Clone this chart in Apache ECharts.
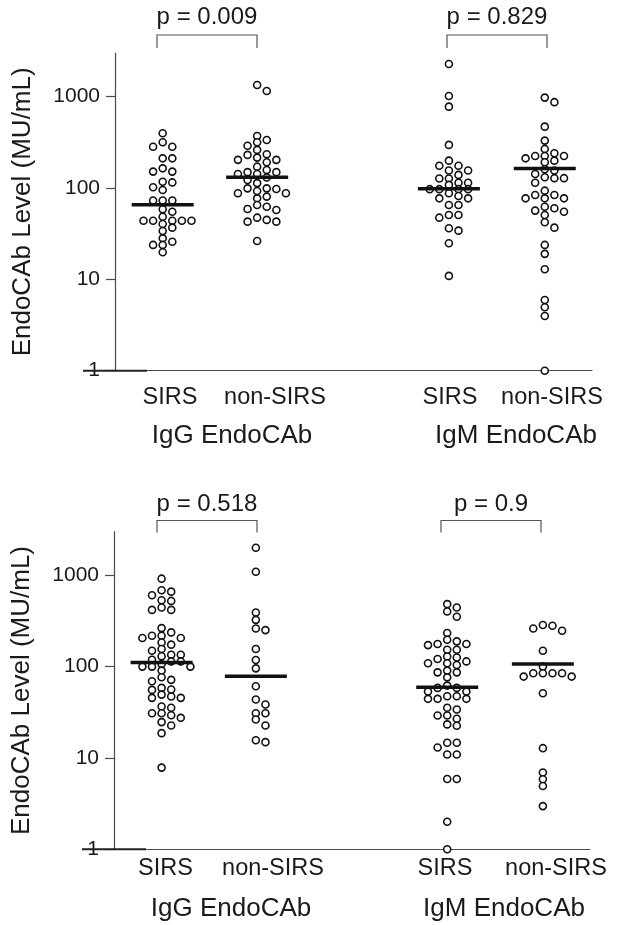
<!DOCTYPE html>
<html><head><meta charset="utf-8">
<script src="https://cdn.jsdelivr.net/npm/echarts@6/dist/echarts.min.js"></script>
<style>html,body{margin:0;padding:0;background:#fff}#chart{width:617px;height:925px}</style>
</head><body><div id="chart"></div>
<script>
// ---------------- data ----------------
const yTickValues = [1, 10, 100, 1000];
const yTickLabels = ['1', '10', '100', '1000'];
const yMin = 1, yMax = 3000;
const groupNames = ['SIRS', 'non-SIRS', 'SIRS', 'non-SIRS'];
const antibodyNames = ['IgG EndoCAb', 'IgM EndoCAb'];
const yAxisTitle = 'EndoCAb Level (MU/mL)';
const pLabelsTop = ['p = 0.009', 'p = 0.829'];
const pLabelsBottom = ['p = 0.518', 'p = 0.9'];

const topIgGSirs = [397, 316, 283, 283, 211, 211, 164, 151, 151, 117, 115, 102, 95, 73, 73, 73, 58.5, 55, 48.5, 43.8, 43.8, 43.8, 43.8, 43.8, 40.3, 36.8, 33.8, 28.1, 25.8, 23.8, 23.8, 19.8];
const topIgGNonSirs = [1340, 1153, 371, 335, 316, 290, 261, 234, 230, 215, 203, 203, 191, 171, 157, 149, 149, 142, 142, 130, 122, 113, 99, 99, 97.5, 92.7, 87.5, 87.5, 80.4, 77, 65, 62.4, 58.9, 57.4, 47.3, 44.7, 42.8, 42.8, 26.3];
const topIgMSirs = [2277, 1016, 776, 296, 199, 175, 175, 155, 155, 139, 127, 127, 114, 114, 108, 97, 97, 97, 97, 87.5, 81.7, 77, 77, 65, 65, 50.6, 50.6, 47.3, 36.2, 34.1, 24.8, 10.9];
const topIgMNonSirs = [975, 869, 469, 330, 267, 240, 224, 224, 224, 211, 199, 191, 160, 155, 142, 131, 128, 128, 114, 93.4, 83.8, 83.8, 77, 77, 77, 62.4, 60, 56.5, 55, 50.6, 42.1, 36.8, 23.8, 19, 12.9, 5.94, 4.94, 3.97, 1.0];
const topMedians = [65.6, 131, 98, 163];

const bottomIgGSirs = [918, 686, 662, 605, 533, 524, 444, 418, 418, 264, 237, 218, 218, 206, 206, 184, 174, 156, 149, 135, 135, 130, 119, 114, 114, 107, 100, 100, 100, 90.5, 76.4, 71.6, 69.2, 58.5, 56.1, 55.6, 49.4, 47, 45.5, 45.5, 36.6, 35.4, 30.9, 30.9, 29.4, 27.5, 24.7, 22.7, 18.7, 7.84];
const bottomIgGNonSirs = [2000, 1094, 391, 325, 261, 251, 156, 118, 95.7, 60.9, 43.6, 38.5, 30.9, 30.9, 26.4, 22.7, 15.6, 14.9];
const bottomIgMSirs = [483, 444, 401, 351, 233, 197, 189, 177, 177, 172, 153, 153, 129, 126, 121, 114, 109, 109, 104, 90.4, 86.5, 86.5, 76.3, 62, 58.5, 58.5, 53.3, 53.3, 47.4, 47.4, 44.4, 44.4, 44.4, 35.4, 33.9, 29.2, 29.2, 26.9, 23.3, 22.5, 14.7, 14.7, 13, 10.9, 10.9, 5.89, 5.89, 2, 1];
const bottomIgMNonSirs = [285, 280, 261, 247, 149, 100, 84.5, 84.5, 84.5, 84.5, 77.8, 77.8, 51.1, 12.8, 6.92, 5.85, 4.94, 2.97];
const bottomMedians = [111, 78.3, 59.4, 107];

// ---------------- layout ----------------
const groupCenters = [10, 29.8, 70, 90.1]; // x-axis units (0..100)
const FONT = '"Liberation Sans", Arial, Helvetica, sans-serif';
const TXT = '#1a1a1a';
const AXC = '#4a4a4a';
const grids = [
  {left: 115, top: 53, width: 477, height: 317.7},
  {left: 114, top: 531.7, width: 476, height: 317.6}
];
const panelLayout = [
  {catX: [170, 275, 450, 552], catY: 398, titleX: [232, 516], titleY: 436, pY: 17, bracketY: 35, legY: 48, bracketX: [[157, 257], [447, 547]]},
  {catX: [165.5, 273, 445, 556], catY: 869, titleX: [231, 504], titleY: 909, pY: 504, bracketY: 520.5, legY: 532.5, bracketX: [[157, 257], [441, 541]]}
];
const panels = [
  {groups: [topIgGSirs, topIgGNonSirs, topIgMSirs, topIgMNonSirs], medians: topMedians, p: pLabelsTop},
  {groups: [bottomIgGSirs, bottomIgGNonSirs, bottomIgMSirs, bottomIgMNonSirs], medians: bottomMedians, p: pLabelsBottom}
];

const chart = echarts.init(document.getElementById('chart'));

function yAxisFor(i) {
  return {
    type: 'log', logBase: 10, min: yMin, max: yMax, gridIndex: i,
    axisLine: {show: true, lineStyle: {color: AXC, width: 1.2}},
    axisTick: {show: true, length: 9, customValues: yTickValues, lineStyle: {color: AXC, width: 1.2}},
    axisLabel: {customValues: yTickValues, fontSize: 21, color: TXT, fontFamily: FONT, margin: 15,
      formatter: v => { const k = yTickValues.indexOf(Math.round(v)); return k >= 0 ? yTickLabels[k] : ''; }},
    splitLine: {show: false},
    name: yAxisTitle, nameLocation: 'middle', nameGap: 79,
    nameTextStyle: {fontSize: 26, color: TXT, fontFamily: FONT}
  };
}
function xAxisFor(i) {
  return {type: 'value', min: 0, max: 100, gridIndex: i,
    axisLine: {show: true, onZero: false, lineStyle: {color: AXC, width: 1}},
    axisTick: {show: false}, axisLabel: {show: false}, splitLine: {show: false}};
}

chart.setOption({
  animation: false,
  backgroundColor: '#fff',
  grid: grids,
  xAxis: [xAxisFor(0), xAxisFor(1)],
  yAxis: [yAxisFor(0), yAxisFor(1)]
});

// deterministic beeswarm layout (pixel space), converted back to axis units
function swarm(values, gi, centerVal) {
  const cx = chart.convertToPixel({xAxisIndex: gi}, centerVal);
  const pts = values.map(v => ({v: v, py: chart.convertToPixel({yAxisIndex: gi}, v)}));
  const order = pts.slice().sort((a, b) => a.py - b.py);
  const placed = [];
  const step = 9.6, minD = 6.2;
  order.forEach(p => {
    let done = false;
    for (let k = 0; k < 30 && !done; k++) {
      const slots = k === 0 ? [0] : [k, -k];
      for (const s of slots) {
        const px = cx + s * step;
        if (placed.every(q => Math.hypot(q.px - px, q.py - p.py) >= minD)) { p.px = px; done = true; break; }
      }
    }
    placed.push(p);
  });
  return pts.map(p => [chart.convertFromPixel({xAxisIndex: gi}, p.px), p.v]);
}

const series = [];
const graphics = [];
panels.forEach((panel, gi) => {
  panel.groups.forEach((vals, k) => {
    series.push({
      type: 'scatter', xAxisIndex: gi, yAxisIndex: gi, z: 2,
      data: swarm(vals, gi, groupCenters[k]),
      symbol: 'circle', symbolSize: 7,
      itemStyle: {color: '#fff', borderColor: '#111', borderWidth: 1.6, opacity: 1}
    });
  });
  series.push({
    type: 'custom', xAxisIndex: gi, yAxisIndex: gi, z: 3,
    data: panel.medians.map((m, k) => [groupCenters[k], m]),
    renderItem: (params, api) => {
      const p = api.coord([api.value(0), api.value(1)]);
      return {type: 'line', shape: {x1: p[0] - 31, y1: p[1], x2: p[0] + 31, y2: p[1]},
        style: {stroke: '#111', lineWidth: 3.5}};
    }
  });

  const L = panelLayout[gi];
  const g = grids[gi];
  const yBase = chart.convertToPixel({yAxisIndex: gi}, yMin);
  // extended baseline stroke through the "1" tick
  graphics.push({type: 'line', shape: {x1: g.left - 32, y1: yBase, x2: g.left + 32, y2: yBase},
    style: {stroke: '#222', lineWidth: 2}, z: 10});
  // brackets + p values
  L.bracketX.forEach((bx, j) => {
    graphics.push({type: 'polyline', shape: {points: [[bx[0], L.legY], [bx[0], L.bracketY], [bx[1], L.bracketY], [bx[1], L.legY]]},
      style: {stroke: '#555', lineWidth: 1.2, fill: null}, z: 10});
    graphics.push({type: 'text', x: (bx[0] + bx[1]) / 2, y: L.pY, z: 10,
      style: {text: panel.p[j], fill: TXT, fontSize: 24, fontFamily: FONT, align: 'center', verticalAlign: 'middle'}});
  });
  // category labels
  L.catX.forEach((x, k) => {
    graphics.push({type: 'text', x: x, y: L.catY, z: 10,
      style: {text: groupNames[k], fill: TXT, fontSize: 23.5, fontFamily: FONT, align: 'center', verticalAlign: 'middle'}});
  });
  L.titleX.forEach((x, j) => {
    graphics.push({type: 'text', x: x, y: L.titleY, z: 10,
      style: {text: antibodyNames[j], fill: TXT, fontSize: 26, fontFamily: FONT, align: 'center', verticalAlign: 'middle'}});
  });
});

chart.setOption({series: series, graphic: graphics});
</script>
</body></html>
